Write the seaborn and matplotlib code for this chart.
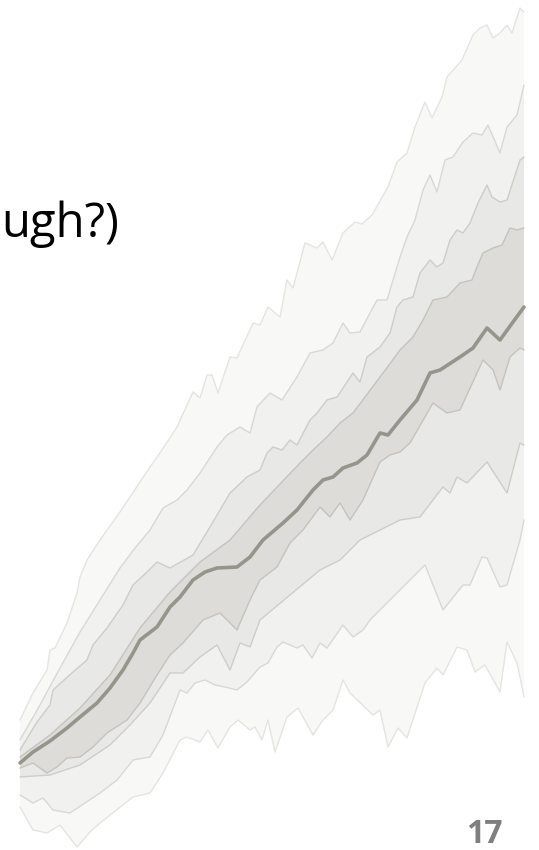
import numpy as np
import matplotlib
matplotlib.use("Agg")
import matplotlib.pyplot as plt
import seaborn as sns

# Fan chart: simulated paths summarised by nested percentile bands.
# Each boundary is its own (step, level) series; outermost bands first.
upper4_x = [20, 33, 47, 50, 55, 67, 77, 80, 87, 100, 120, 140, 150, 160, 177, 193, 200, 207, 212, 218, 230, 237, 253, 260, 268, 280, 287, 293, 305, 317, 323, 332, 343, 355, 362, 372, 388, 397, 407, 415, 425, 432, 442, 447, 462, 473, 480, 487, 493, 500, 507, 512, 520, 524]
upper4_y = [130, 157, 180, 200, 202, 227, 257, 273, 290, 310, 338, 368, 383, 397, 423, 458, 452, 475, 475, 457, 493, 492, 527, 525, 543, 533, 570, 562, 607, 602, 608, 590, 617, 628, 626, 635, 663, 688, 697, 723, 748, 732, 753, 773, 790, 815, 822, 825, 812, 817, 825, 817, 842, 838]

upper3_x = [20, 40, 60, 80, 100, 120, 135, 150, 163, 177, 187, 200, 217, 227, 240, 250, 257, 270, 282, 297, 310, 323, 333, 343, 350, 360, 370, 377, 387, 400, 407, 415, 423, 430, 437, 445, 453, 463, 473, 482, 488, 500, 507, 517, 524]
upper3_y = [110, 145, 182, 218, 250, 282, 302, 320, 342, 350, 360, 377, 403, 415, 423, 417, 443, 457, 450, 473, 497, 500, 507, 527, 517, 518, 537, 550, 550, 593, 613, 630, 660, 675, 658, 690, 693, 708, 717, 715, 725, 697, 723, 735, 765]

upper2_x = [20, 37, 50, 53, 73, 87, 93, 107, 123, 133, 147, 157, 170, 193, 210, 230, 247, 260, 267, 273, 282, 290, 297, 310, 317, 327, 337, 347, 353, 360, 367, 380, 390, 397, 403, 413, 420, 430, 437, 443, 450, 457, 463, 470, 478, 487, 492, 500, 507, 520, 524]
upper2_y = [100, 128, 145, 160, 178, 190, 205, 222, 245, 265, 278, 288, 282, 295, 323, 357, 373, 380, 397, 403, 400, 410, 405, 430, 437, 450, 453, 468, 477, 468, 493, 503, 517, 543, 550, 553, 577, 590, 583, 587, 610, 620, 617, 627, 647, 665, 653, 648, 650, 690, 693]

upper1_x = [20, 50, 80, 110, 140, 170, 200, 230, 260, 300, 313, 327, 340, 353, 383, 400, 413, 423, 433, 447, 460, 472, 477, 483, 493, 502, 510, 517, 524]
upper1_y = [93, 115, 142, 175, 222, 258, 288, 310, 345, 387, 400, 413, 427, 437, 477, 500, 513, 530, 550, 553, 567, 570, 583, 597, 602, 605, 622, 620, 622]

median_x = [20, 33, 50, 67, 80, 97, 110, 123, 133, 140, 157, 170, 180, 193, 205, 217, 237, 250, 263, 283, 297, 313, 323, 333, 343, 357, 367, 380, 388, 400, 417, 430, 440, 460, 473, 487, 500, 513, 524]
median_y = [87, 98, 109, 122, 133, 147, 162, 180, 197, 210, 223, 243, 253, 270, 278, 282, 283, 293, 310, 327, 340, 360, 370, 373, 382, 387, 395, 417, 415, 430, 450, 477, 480, 493, 502, 522, 510, 528, 543]

lower1_x = [20, 33, 47, 57, 67, 80, 93, 107, 127, 140, 157, 170, 183, 203, 220, 237, 250, 260, 277, 290, 303, 320, 330, 340, 350, 363, 380, 390, 400, 410, 433, 447, 460, 483, 493, 500, 510, 520, 524]
lower1_y = [82, 87, 77, 83, 92, 93, 103, 117, 130, 147, 175, 195, 207, 230, 237, 220, 250, 270, 283, 307, 320, 343, 333, 347, 330, 350, 388, 395, 398, 407, 447, 437, 440, 490, 480, 460, 493, 502, 500]

lower2_x = [20, 50, 80, 110, 130, 150, 170, 183, 200, 217, 230, 240, 250, 260, 290, 320, 340, 360, 380, 400, 420, 433, 443, 450, 457, 467, 487, 507, 520, 524]
lower2_y = [73, 75, 85, 105, 125, 147, 177, 177, 193, 205, 180, 207, 203, 230, 255, 280, 290, 310, 320, 330, 333, 350, 363, 357, 373, 367, 388, 357, 407, 405]

lower3_x = [20, 33, 43, 53, 70, 100, 117, 133, 150, 163, 180, 187, 195, 205, 215, 225, 237, 247, 260, 268, 277, 283, 297, 303, 312, 320, 327, 343, 353, 363, 370, 390, 405, 425, 443, 463, 470, 482, 487, 500, 507, 520, 524]
lower3_y = [55, 47, 52, 40, 37, 57, 70, 90, 93, 115, 160, 157, 167, 170, 165, 163, 160, 168, 183, 187, 203, 208, 202, 205, 192, 207, 202, 225, 213, 220, 230, 250, 265, 285, 240, 265, 265, 293, 292, 263, 265, 310, 330]

lower4_x = [20, 33, 47, 60, 77, 90, 100, 133, 150, 163, 180, 187, 200, 208, 218, 230, 238, 250, 255, 262, 268, 275, 287, 298, 313, 323, 333, 343, 350, 373, 380, 388, 398, 407, 425, 437, 443, 457, 467, 475, 485, 500, 507, 517, 524]
lower4_y = [43, 20, 17, 25, 3, 18, 27, 53, 57, 77, 110, 113, 108, 120, 102, 123, 130, 120, 123, 110, 130, 98, 133, 142, 115, 130, 140, 170, 157, 135, 140, 103, 122, 112, 167, 182, 175, 203, 200, 178, 185, 158, 208, 187, 153]

title_text = "ugh?)"
page_number = "17"

sns.set_theme(style="white")
plt.rcParams["font.family"] = ["Open Sans", "DejaVu Sans"]

fig = plt.figure(figsize=(5.39, 8.5), dpi=100)
ax = fig.add_axes([0, 0, 1, 1])
ax.set_xlim(0, 539)
ax.set_ylim(0, 850)
ax.axis("off")

bands = [
    (upper4_x, upper4_y, lower4_x, lower4_y, "#f8f8f7", "#e4e4e1"),
    (upper3_x, upper3_y, lower3_x, lower3_y, "#f1f1f0", "#d8d8d5"),
    (upper2_x, upper2_y, lower2_x, lower2_y, "#e8e8e6", "#cdcdc9"),
    (upper1_x, upper1_y, lower1_x, lower1_y, "#dddcd9", "#c4c3be"),
]

for ux, uy, lx, ly, face, edge in bands:
    ax.fill(np.r_[ux, lx[::-1]], np.r_[uy, ly[::-1]], color=face, lw=0, zorder=1)

for ux, uy, lx, ly, face, edge in bands:
    for bx, by in ((ux, uy), (lx, ly)):
        sns.lineplot(x=bx, y=by, sort=False, estimator=None, color=edge,
                     lw=1.0, ax=ax, zorder=2)

sns.lineplot(x=median_x, y=median_y, sort=False, estimator=None,
             color="#96958c", lw=2.6, ax=ax, zorder=3)

fig.text(1 / 539, 1 - 237 / 850, title_text, fontsize=34, color="black",
         ha="left", va="baseline")
fig.text(503 / 539, 1 - 843 / 850, page_number, fontsize=23, fontweight="bold",
         color="#7f7f7f", ha="right", va="baseline")

fig.savefig("out.png", dpi=100)
